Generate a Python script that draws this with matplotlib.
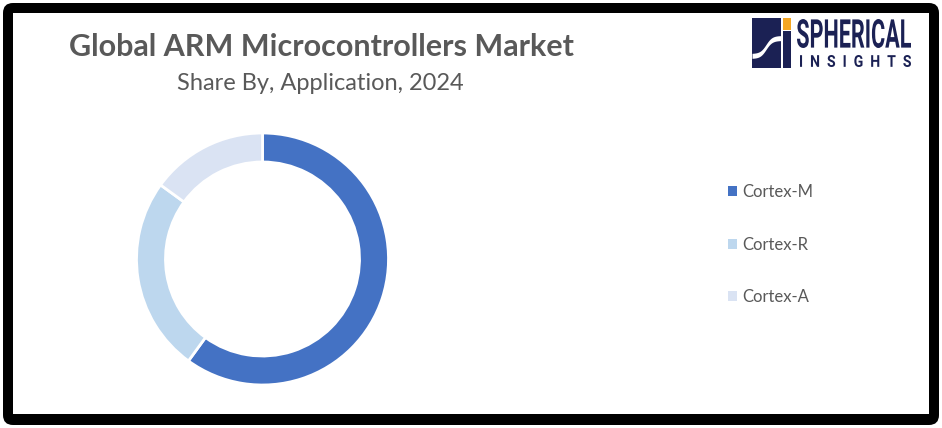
import matplotlib
matplotlib.use("Agg")
import matplotlib.pyplot as plt
import numpy as np
from matplotlib.patches import FancyBboxPatch, Rectangle, PathPatch
from matplotlib.textpath import TextPath
from matplotlib.font_manager import FontProperties
from matplotlib.transforms import Affine2D

categories = ["Cortex-M", "Cortex-R", "Cortex-A"]
shares = [60, 25, 15]
colors = ["#4472C4", "#BDD7EE", "#DAE3F3"]
title = "Global ARM Microcontrollers Market"
subtitle = "Share By, Application, 2024"

plt.rcParams['font.family'] = ['Lato', 'DejaVu Sans']
W, H = 942, 428
fig = plt.figure(figsize=(W / 100, H / 100), dpi=100)
fig.patch.set_facecolor("white")

# decoration axes in pixel coordinates
bg = fig.add_axes([0, 0, 1, 1])
bg.set_xlim(0, W)
bg.set_ylim(H, 0)
bg.axis("off")
bg.add_patch(FancyBboxPatch((3, 3), 936, 422, boxstyle="round,pad=0,rounding_size=10",
                            facecolor="black", edgecolor="none"))
bg.add_patch(Rectangle((13, 13), 916, 401, facecolor="white", edgecolor="none"))

txt = "#595959"
bg.text(321, 47, title, ha="center", va="center", fontsize=22, fontweight="bold", color=txt)
bg.text(320, 83, subtitle, ha="center", va="center", fontsize=17, color=txt)

# logo
navy = "#1B2154"
bg.add_patch(Rectangle((752, 18), 29, 50, facecolor=navy, edgecolor="none"))
bg.add_patch(Rectangle((783, 31), 8, 37, facecolor=navy, edgecolor="none"))
bg.add_patch(Rectangle((783, 18), 8, 12, facecolor="#F5A623", edgecolor="none"))
xs = np.linspace(752, 781, 30)
ys = 47 - 9 * np.tanh((xs - 766) / 6)
bg.fill_between(xs, ys + 2.5, ys - 2.5, color="white", lw=0)


def fit_text(s, x0, y0, x1, y1, weight="bold", family="Roboto"):
    fp = FontProperties(family=family, weight=weight)
    tp = TextPath((0, 0), s, size=100, prop=fp)
    bb = tp.get_extents()
    sx = (x1 - x0) / bb.width
    sy = (y1 - y0) / bb.height
    tr = Affine2D().translate(-bb.x0, -bb.y0).scale(sx, -sy).translate(x0, y1)
    bg.add_patch(PathPatch(tr.transform_path(tp), facecolor=navy, edgecolor="none"))


fit_text("SPHERICAL", 797, 19, 911, 48)
fit_text("I  N  S  I  G  H  T  S", 800, 55, 911, 67)

# donut
cx, cy, r = 262.5, 259, 126
ax = fig.add_axes([(cx - r) / W, (H - cy - r) / H, 2 * r / W, 2 * r / H])
wedges, _ = ax.pie(shares, colors=colors, startangle=90, counterclock=False,
                   wedgeprops=dict(width=0.23, edgecolor="white", linewidth=2))
ax.set_xlim(-1, 1)
ax.set_ylim(-1, 1)
ax.set_aspect("equal")
ax.axis("off")

leg = fig.legend(wedges, categories, loc="upper left", bbox_to_anchor=(713 / W, 1 - 169 / H),
                 frameon=False, fontsize=12, labelcolor=txt, handlelength=0.55, handleheight=0.55,
                 handletextpad=0.3, labelspacing=2.2)
for h in leg.legend_handles:
    h.set_edgecolor("none")

fig.savefig("out.png", dpi=100, facecolor="white")
